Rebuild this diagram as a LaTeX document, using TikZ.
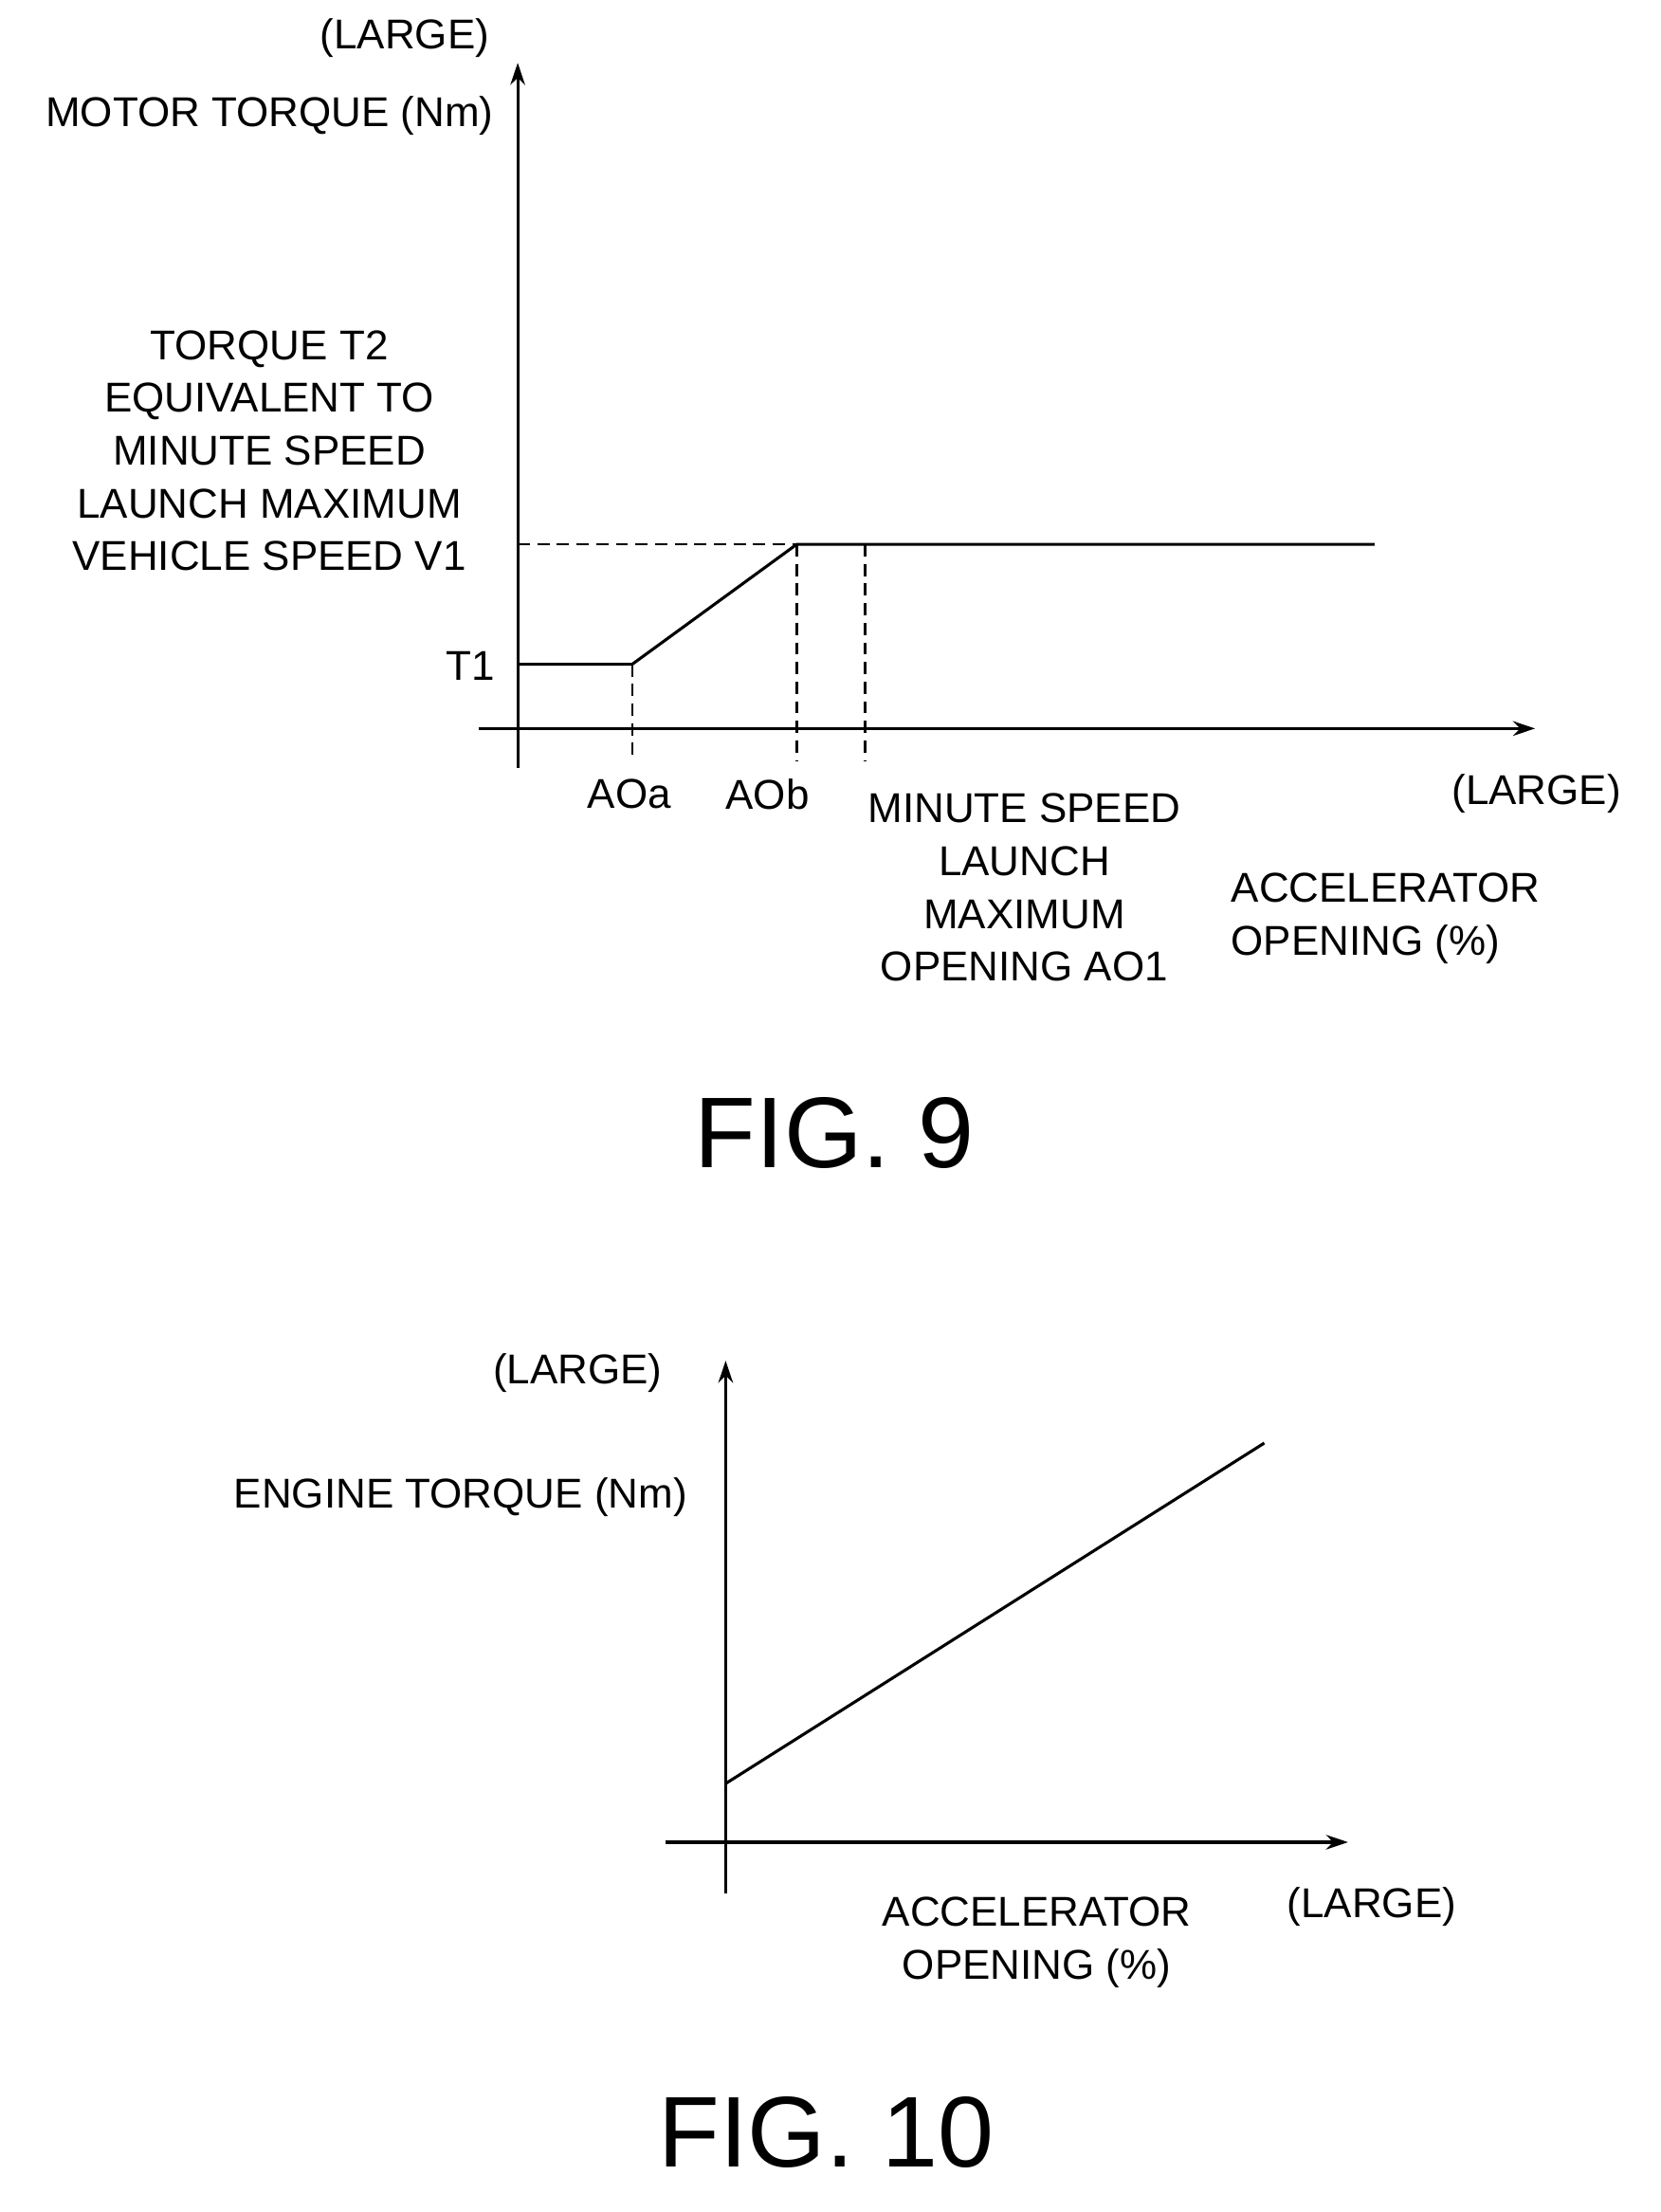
\documentclass[tikz,border=0pt]{standalone}
\usepackage{fontspec}
\usetikzlibrary{arrows.meta}
\setmainfont{Liberation Sans}
\begin{document}
\begin{tikzpicture}[x=0.02cm,y=-0.02cm,
  lbl/.style={font=\fontsize{17}{21.5}\selectfont,inner sep=0pt,align=center},
  fig/.style={font=\fontsize{41}{44}\selectfont,inner sep=0pt},
  ax/.style={line width=1.2pt,-{Stealth[length=9pt,width=6pt]}},
  crv/.style={line width=1.2pt},
  dsh/.style={line width=0.9pt,dash pattern=on 5pt off 3pt}]
\useasboundingbox (0,0) rectangle (1190,1585);
% FIG 9
\coordinate (yb) at (371,550); \coordinate (yt) at (371,45);
\coordinate (xl) at (343,522); \coordinate (xr) at (1100,522);
\draw[ax] (yb) -- (yt);
\draw[ax] (xl) -- (xr);
\coordinate (p0) at (371,476); \coordinate (p1) at (453,476);
\coordinate (p2) at (571,390); \coordinate (p3) at (985,390);
\coordinate (q) at (620,390);
\draw[crv] (p0) -- (p1) -- (p2) -- (p3);
\coordinate (d0) at (371,390);
\coordinate (da) at (453,545); \coordinate (db) at (571,545); \coordinate (dc) at (620,545);
\draw[dsh] (d0) -- (p2);
\draw[dsh] (p1) -- (da); \draw[dsh] (p2) -- (db); \draw[dsh] (q) -- (dc);
\node[lbl] (l1) at (290,27) {(LARGE)};
\node[lbl,anchor=east] (l2) at (354,83) {MOTOR TORQUE (Nm)};
\node[lbl] (l3) at (193,323) {TORQUE T2\\EQUIVALENT TO\\MINUTE SPEED\\LAUNCH MAXIMUM\\VEHICLE SPEED V1};
\node[lbl] (l4) at (337,477) {T1};
\node[lbl] (l5) at (451,569) {AOa};
\node[lbl] (l6) at (550,569) {AOb};
\node[lbl] (l7) at (734,636) {MINUTE SPEED\\LAUNCH\\MAXIMUM\\OPENING AO1};
\node[lbl] (l8) at (1101,569) {(LARGE)};
\node[lbl,anchor=west,align=left] (l9) at (882,658) {ACCELERATOR\\OPENING (\%)};
\node[fig] (f9) at (598,812) {FIG. 9};
% FIG 10
\coordinate (Yb) at (520,1357); \coordinate (Yt) at (520,975);
\coordinate (Xl) at (477,1320); \coordinate (Xr) at (966,1320);
\draw[ax] (Yb) -- (Yt);
\draw[ax] (Xl) -- (Xr);
\coordinate (e0) at (520,1278); \coordinate (e1) at (906,1034);
\draw[crv] (e0) -- (e1);
\node[lbl] (m1) at (414,984) {(LARGE)};
\node[lbl] (m2) at (330,1073) {ENGINE TORQUE (Nm)};
\node[lbl] (m3) at (743,1392) {ACCELERATOR\\OPENING (\%)};
\node[lbl] (m4) at (983,1366) {(LARGE)};
\node[fig] (f10) at (592,1528) {FIG. 10};
\end{tikzpicture}
\end{document}
